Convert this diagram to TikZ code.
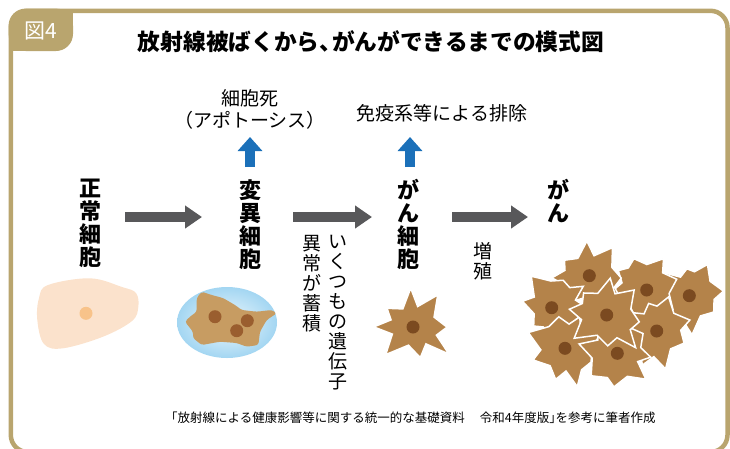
\documentclass[tikz,border=0pt]{standalone}
\usepackage{fontspec}
\setmainfont{Noto Sans CJK JP}
\usetikzlibrary{arrows.meta}

\definecolor{framegold}{HTML}{B9A56E}
\definecolor{arrowgray}{HTML}{58585A}
\definecolor{arrowblue}{HTML}{1B70B9}
\definecolor{peach}{HTML}{FBE2CC}
\definecolor{peachcore}{HTML}{F8C38A}
\definecolor{mutbody}{HTML}{C79C62}
\definecolor{mutcore}{HTML}{9A5E2F}
\definecolor{glowin}{HTML}{EEF8FD}
\definecolor{glowout}{HTML}{A3D6F2}
\definecolor{cancerbody}{HTML}{B4834A}
\definecolor{cancercore}{HTML}{7B4A20}

% spiky cancer cell: centre x, centre y, outer radius, inner radius, rotation, spikes
\newcommand\spikycell[6]{%
  \pgfmathtruncatemacro\spikeend{2*#6-1}%
  \begin{scope}[shift={(#1,#2)}]
    \filldraw[cellstyle] (#5:#3 pt)
      \foreach \k [evaluate=\k as \ang using {#5+\k*180/#6+7*sin(\k*53)},
                   evaluate=\k as \rad using {isodd(\k) ? #4*(1+0.1*sin(\k*131+#5)) : #3*(1+0.18*sin(\k*71+#5))}]
        in {1,...,\spikeend} { -- (\ang:\rad pt) } -- cycle;
  \end{scope}}

\begin{document}
\begin{tikzpicture}[x=1pt,y=-1pt,
  vlabel/.style={font=\bfseries\fontsize{22}{23}\selectfont, align=center, inner sep=0pt, anchor=north},
  vtext/.style={font=\fontsize{19}{20}\selectfont, align=center, inner sep=0pt, anchor=north},
  htext/.style={font=\fontsize{19}{22}\selectfont, inner sep=0pt},
  grayarrow/.style={arrowgray, line width=10pt, -{Triangle[length=17pt,width=22pt]}},
  bluearrow/.style={arrowblue, line width=10pt, -{Triangle[length=14pt,width=24pt]}},
  cellstyle/.style={fill=cancerbody, draw=white, line width=1.5pt, line join=miter},
  nucleus/.style={fill=cancercore}]
\useasboundingbox (0,0) rectangle (730,448);

% outer frame and tab
\draw[framegold, line width=4.5pt, rounded corners=17pt] (10.8,10.8) rectangle (727.5,452);
\fill[framegold, rounded corners=17pt] (8.6,8.6) rectangle (73,51);
\fill[framegold] (50,8.6) rectangle (73,28);
\fill[framegold] (8.6,30) rectangle (30,51);
\node[white, font=\fontsize{21}{22}\selectfont, inner sep=0pt] (tab) at (41,31) {図4};

% title
\node[font=\bfseries\fontsize{22.7}{26}\selectfont, inner sep=0pt] (title) at (371,42)
  {放射線被ばくから、\hspace{-0.45em}がんができるまでの模式図};

% stage labels
\node[vlabel] (normal) at (90,179) {正\\常\\細\\胞};
\node[vlabel] (mutant) at (250,179) {変\\異\\細\\胞};
\node[vlabel] (cancercell) at (408,179) {が\\ん\\細\\胞};
\node[vlabel] (cancer) at (558,179) {が\\ん};

% side texts
\node[htext] (death) at (250,98) {細胞死};
\node[htext] (apop) at (250,120) {（アポトーシス）};
\node[htext] (immune) at (442,113) {免疫系等による排除};
\node[vtext] (genes) at (338,235) {い\\く\\つ\\も\\の\\遺\\伝\\子};
\node[vtext] (accum) at (312,235) {異\\常\\が\\蓄\\積};
\node[vtext] (prolif) at (483,242) {増\\殖};
\node[font=\fontsize{12.5}{14}\selectfont, inner sep=0pt, anchor=west] (source) at (165,418)
  {「放射線による健康影響等に関する統一的な基礎資料\hspace{1.2em}令和4年度版」\hspace{-0.5em}を参考に筆者作成};

% arrow end points
\coordinate (g1s) at (125,217); \coordinate (g1e) at (202,217);
\coordinate (g2s) at (293,217); \coordinate (g2e) at (372,217);
\coordinate (g3s) at (452,217); \coordinate (g3e) at (528,217);
\coordinate (b1s) at (250,167); \coordinate (b1e) at (250,137);
\coordinate (b2s) at (410,167); \coordinate (b2e) at (410,137);

\draw[grayarrow] (g1s) -- (g1e);
\draw[grayarrow] (g2s) -- (g2e);
\draw[grayarrow] (g3s) -- (g3e);
\draw[bluearrow] (b1s) -- (b1e);
\draw[bluearrow] (b2s) -- (b2e);

% normal cell
\fill[peach] plot[smooth cycle, tension=0.6] coordinates {(48,285) (90,278.3) (122,287) (136,293)
  (138.3,307) (132,321) (103,336.7) (63,348.3) (44,344) (37.3,320) (39,298)};
\fill[peachcore] (86,313.3) circle (6.5pt);

% mutated cell with its glow
\shade[inner color=glowin, outer color=glowout] (227,322.5) ellipse (50pt and 35.5pt);
\fill[mutbody, rounded corners=2.5pt] (201.7,291.7) -- (211.7,295) -- (223,298) -- (235,305) -- (241.7,310)
  -- (256.7,311.7) -- (271.7,310) -- (276.7,313.3) -- (266.7,320) -- (260,331.7) -- (258.3,345)
  -- (246.7,346.7) -- (236.7,343) -- (220,341.7) -- (201.7,345) -- (193,338) -- (193,331.7)
  -- (185,321.7) -- (190,316.7) -- (196.7,311.7) -- (196.7,298) -- cycle;
\fill[mutcore] (215,316.7) circle (6.5pt);
\fill[mutcore] (247.3,320.7) circle (6.5pt);
\fill[mutcore] (236.7,330.7) circle (6.5pt);

% single cancer cell
\spikycell{414}{326}{38}{22}{95}{8}
\fill[nucleus] (413,327) circle (6.5pt);

% cluster of cancer cells
\spikycell{690}{297}{34}{24}{10}{8}
\spikycell{646}{289}{35}{25}{60}{8}
\spikycell{657}{332}{35}{24}{20}{8}
\spikycell{590}{277}{36}{24}{95}{8}
\spikycell{555}{307}{33}{24}{170}{8}
\spikycell{566}{348}{35}{25}{200}{8}
\spikycell{617}{352}{35}{25}{265}{8}
\spikycell{607}{315}{37}{25}{85}{8}
\foreach \nx/\ny in {589.3/275.7, 646.7/290, 689.3/295.7, 551.7/307.7, 606.7/315, 656.7/331, 565/348.3, 617.3/353.3}
  \fill[nucleus] (\nx,\ny) circle (6.5pt);
\end{tikzpicture}
\end{document}
